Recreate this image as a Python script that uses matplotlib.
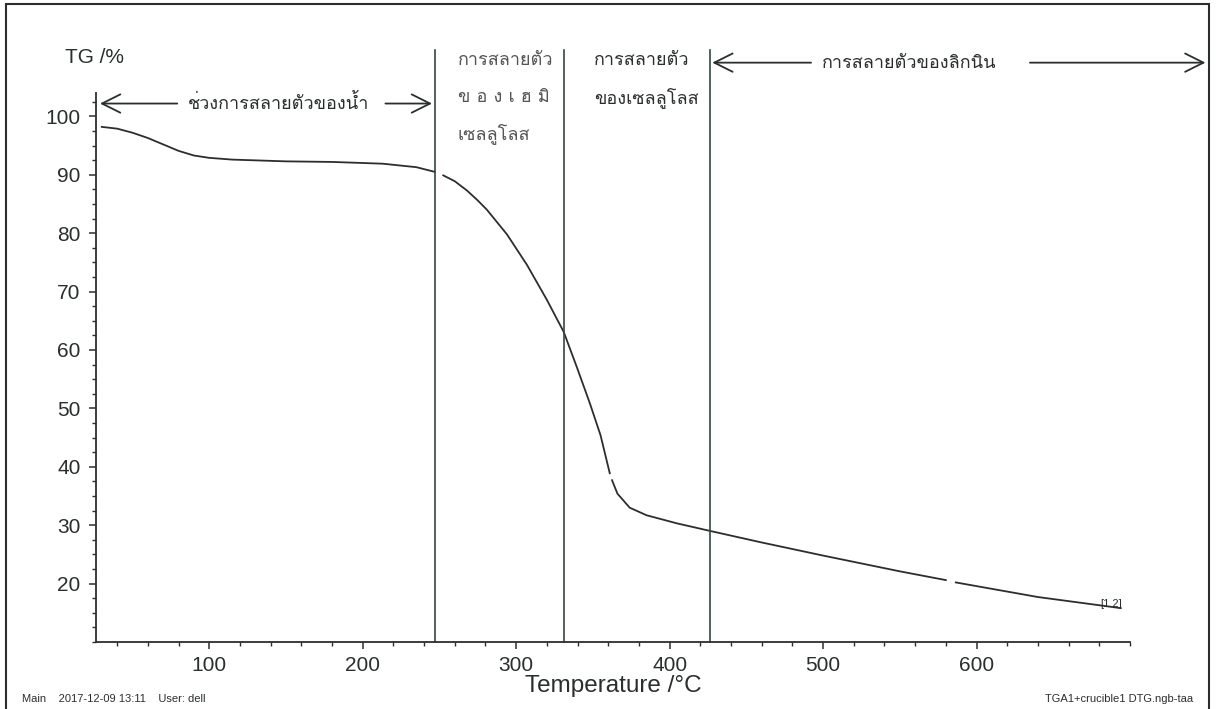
import matplotlib
matplotlib.use("Agg")
import matplotlib.pyplot as plt
import numpy as np
from matplotlib import font_manager
from matplotlib.ft2font import FT2Font
from matplotlib.patches import Rectangle
from matplotlib.ticker import MultipleLocator

# TG curve (temperature in degC, mass in %); the record has a few gaps
temp = [30, 40, 50, 60, 70, 80, 90, 100, 115, 150, 180, 213, 235, 247,
        252.5, 260, 268, 275, 281, 294, 307, 320, 331, 339.5, 348, 355, 361,
        362.5, 366, 374, 385, 405, 425, 459, 500, 550, 580,
        586.5, 640, 694]
mass = [98.2, 97.9, 97.2, 96.3, 95.2, 94.1, 93.3, 92.9, 92.6, 92.3, 92.2, 91.9, 91.3, 90.5,
        89.9, 88.9, 87.3, 85.6, 84.0, 79.8, 74.6, 68.6, 63.1, 57.1, 50.9, 45.4, 38.9,
        37.7, 35.4, 33.0, 31.7, 30.3, 29.1, 27.1, 24.8, 22.1, 20.6,
        20.2, 17.7, 15.8]
pieces = [(0, 14), (14, 27), (27, 37), (37, len(temp))]

# stage boundaries (degC)
bounds = [247, 331, 426]

water_label = "ช่วงการสลายตัวของน้ำ"
hemi_label = ["การสลายตัว", "ข อ ง เ ฮ มิ", "เซลลูโลส"]
cell_label = ["การสลายตัว", "ของเซลลูโลส"]
lignin_label = "การสลายตัวของลิกนิน"


def find_thai_font():
    for f in font_manager.fontManager.ttflist:
        try:
            if ord("ก") in FT2Font(f.fname).get_charmap():
                return f.name
        except Exception:
            continue
    return "DejaVu Sans"


thai = [find_thai_font(), "DejaVu Sans"]
plt.rcParams["font.family"] = ["Liberation Sans", "DejaVu Sans"]

ink = "#2a2f2d"
rule = "#34483f"

fig = plt.figure(figsize=(12.17, 7.09), dpi=100)
ax = fig.add_axes([0.0786, 0.0945, 0.8499, 0.7743])

for lo, hi in pieces:
    ax.plot(temp[lo:hi], mass[lo:hi], color=ink, lw=1.3,
            solid_joinstyle="round")

for b in bounds:
    ax.plot([b, b], [10, 111.3], color=rule, lw=1.2, clip_on=False)

ax.set_xlim(26, 700)
ax.set_ylim(10, 104)
ax.spines["top"].set_visible(False)
ax.spines["right"].set_visible(False)
for s in ("left", "bottom"):
    ax.spines[s].set_linewidth(1.3)
    ax.spines[s].set_color(ink)

ax.set_xticks([100, 200, 300, 400, 500, 600])
ax.set_yticks(np.arange(20, 101, 10))
ax.xaxis.set_minor_locator(MultipleLocator(20))
ax.yaxis.set_minor_locator(MultipleLocator(2.5))
ax.tick_params(which="major", direction="out", length=5, width=1.1,
               labelsize=15, colors=ink)
ax.tick_params(which="minor", direction="out", length=3, width=1.0, colors=ink)
ax.tick_params(axis="y", pad=6)
ax.tick_params(axis="x", pad=5)
ax.set_xlabel("Temperature /°C", fontsize=17.5, color=ink, labelpad=0)

fig.text(65 / 1217, 1 - 63 / 709, "TG /%", fontsize=15, color=ink, va="baseline")

# stage arrows
arrow = dict(arrowstyle="->, head_length=1.1, head_width=0.55",
             color=ink, lw=1.3, mutation_scale=12)
for x0, x1, y in [(81, 27, 102.2), (213, 247, 102.2),
                  (494, 426, 109.2), (633, 751, 109.2)]:
    ax.annotate("", xy=(x1, y), xytext=(x0, y), arrowprops=arrow,
                annotation_clip=False)

ax.text(145, 102.2, water_label, family=thai, fontsize=13, color=ink,
        ha="center", va="center")
ax.text(556, 109.2, lignin_label, family=thai, fontsize=13, color=ink,
        ha="center", va="center")
for i, line in enumerate(hemi_label):
    ax.text(262, 109.6 - 6.3 * i, line, family=thai, fontsize=13, color="#555",
            ha="left", va="center", clip_on=False)
for i, line in enumerate(cell_label):
    ax.text(351, 109.6 - 6.3 * i, line, family=thai, fontsize=13, color=ink,
            ha="left", va="center", clip_on=False)

ax.text(695, 15.6, "[1.2]", fontsize=8, color=ink, ha="right", va="bottom")

fig.text(22 / 1217, 1 - 699 / 709, "Main    2017-12-09 13:11    User: dell",
         fontsize=8, color=ink, va="center")
fig.text(1193 / 1217, 1 - 699 / 709, "TGA1+crucible1 DTG.ngb-taa",
         fontsize=8, color=ink, va="center", ha="right")

fig.add_artist(Rectangle((6 / 1217, -0.02), 1203 / 1217, 1.02 - 4 / 709,
                         transform=fig.transFigure, fill=False,
                         edgecolor=ink, lw=1.5))

fig.savefig("out.png", dpi=100)
